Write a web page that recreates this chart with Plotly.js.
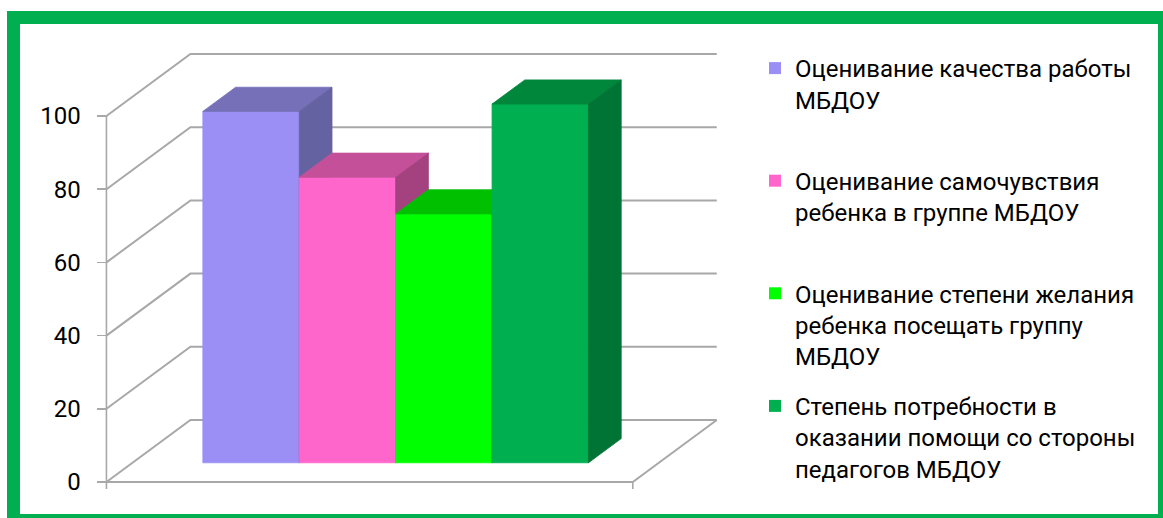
<!DOCTYPE html>
<html><head><meta charset="utf-8">
<script src="https://cdn.plot.ly/plotly-3.0.1.min.js"></script>
<style>
html,body{margin:0;padding:0;overflow:hidden;background:#fff;width:1163px;height:518px}
#chart{position:absolute;left:0;top:0;width:1163px;height:518px}
#frame{position:absolute;left:7px;top:11px;width:1164px;height:516px;box-sizing:border-box;border:13px solid #00b050;pointer-events:none}
</style></head><body>
<div id="chart"></div><div id="frame"></div>
<script>
// ---- data ----
const seriesNames = [
  'Оценивание качества работы<br>МБДОУ<br> ',
  'Оценивание самочувствия<br>ребенка в группе МБДОУ<br> ',
  'Оценивание степени желания<br>ребенка посещать группу<br>МБДОУ',
  'Степень потребности в<br>оказании помощи со стороны<br>педагогов МБДОУ'
];
const seriesValues = [96, 78, 68, 98];
const yTickVals = [0, 20, 40, 60, 80, 100];
const yTickText = ['0', '20', '40', '60', '80', '100'];

// ---- styles ----
const frontColors = ['#9b8ff5', '#ff66cc', '#00ff00', '#00b050'];
const topColors   = ['#7570b8', '#c4509a', '#00c000', '#00873c'];
const sideColors  = ['#6462a0', '#a3427f', '#00a000', '#007434'];
const FONT = 'Roboto, "Noto Sans", sans-serif';

// ---- geometry (pixels) ----
const G = {x0: 176.8, W: 96.4, y0: 482, k: 3.66, dzx: 84, dzy: 62,
  floorL: -0.73, floorR: 4.73, zFront: 0.31, zBack: 0.70,
  plotL: 96, plotR: 730, plotT: 36, plotB: 498};
const plotW = G.plotR - G.plotL, plotH = G.plotB - G.plotT;
const dxz = G.dzx / G.W, dyz = G.dzy / G.k;
function P(X, V, z) { return [X + z * dxz, V + z * dyz]; }

const traces = [];
function poly(pts, color) {
  const xs = [], ys = [];
  pts.forEach(p => { xs.push(p[0]); ys.push(p[1]); });
  xs.push(pts[0][0]); ys.push(pts[0][1]);
  traces.push({type: 'scatter', mode: 'lines', x: xs, y: ys, fill: 'toself',
    fillcolor: color, line: {color: color, width: 0.8}, hoverinfo: 'skip', showlegend: false});
}
function lines(segs, color, width) {
  const xs = [], ys = [];
  segs.forEach(s => { s.forEach(p => { xs.push(p[0]); ys.push(p[1]); }); xs.push(null); ys.push(null); });
  traces.push({type: 'scatter', mode: 'lines', x: xs, y: ys, line: {color: color, width: width},
    hoverinfo: 'skip', showlegend: false});
}

// walls & gridlines
const yMax = yTickVals[yTickVals.length - 1];
const grid = yTickVals.map(v => [P(G.floorL, v, 0), P(G.floorL, v, 1), P(G.floorR, v, 1)]);
grid.push([P(G.floorL, 0, 0), P(G.floorR, 0, 0), P(G.floorR, 0, 1)]);
lines(grid, '#a8a8a8', 2);
const tickDown = 7 / G.k;
lines([[P(G.floorL, 0, 0), P(G.floorL, yMax, 0)],
       [P(G.floorL, 0, 0), P(G.floorL, -tickDown, 0)],
       [P(G.floorR, 0, 0), P(G.floorR, -tickDown, 0)]], '#a8a8a8', 1.6);

// bars
seriesValues.forEach((h, i) => {
  const L = i, R = i + 1, zf = G.zFront, zb = G.zBack;
  poly([P(L, 0, zf), P(R, 0, zf), P(R, h, zf), P(L, h, zf)], frontColors[i]);
  poly([P(L, h, zf), P(R, h, zf), P(R, h, zb), P(L, h, zb)], topColors[i]);
  poly([P(R, 0, zf), P(R, 0, zb), P(R, h, zb), P(R, h, zf)], sideColors[i]);
});

// legend entries
seriesNames.forEach((n, i) => {
  traces.push({type: 'scatter', mode: 'markers', x: [null], y: [null], name: n,
    legendgroup: 'g' + i, showlegend: true, hoverinfo: 'skip',
    marker: {symbol: 'square', size: 15, color: frontColors[i]}});
});

const axisPx = G.x0 + G.floorL * G.W;
const layout = {
  width: 1163, height: 518,
  margin: {l: G.plotL, r: 1163 - G.plotR, t: G.plotT, b: 518 - G.plotB, pad: 0},
  paper_bgcolor: '#fff', plot_bgcolor: 'rgba(0,0,0,0)',
  showlegend: true,
  xaxis: {range: [(G.plotL - G.x0) / G.W, (G.plotR - G.x0) / G.W], visible: false, fixedrange: true},
  yaxis: {range: [(G.y0 - G.plotB) / G.k, (G.y0 - G.plotT) / G.k], anchor: 'free',
    position: (axisPx - G.plotL) / plotW, tickvals: yTickVals, ticktext: yTickText,
    ticks: 'outside', ticklen: 9, tickwidth: 1.6, tickcolor: '#a8a8a8',
    showgrid: false, zeroline: false, showline: false, ticklabelstandoff: 12,
    tickfont: {family: FONT, size: 24, color: '#000'}, fixedrange: true},
  legend: {x: (755 - G.plotL) / plotW, xanchor: 'left', y: (G.plotB - 46) / plotH, yanchor: 'top',
    font: {family: FONT, size: 24, color: '#000'}, valign: 'top', traceorder: 'grouped',
    tracegroupgap: 16, bgcolor: 'rgba(0,0,0,0)', itemsizing: 'constant'},
  hovermode: false
};
Plotly.newPlot('chart', traces, layout, {displayModeBar: false, staticPlot: true});
</script>
</body></html>
